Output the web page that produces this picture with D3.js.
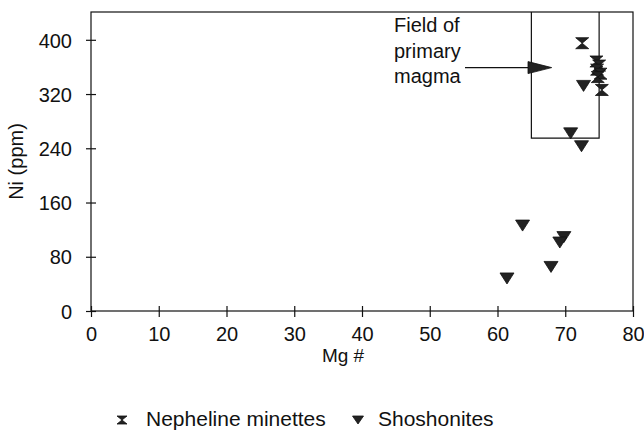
<!DOCTYPE html>
<html>
<head>
<meta charset="utf-8">
<script src="https://cdn.jsdelivr.net/npm/d3@7"></script>
<style>
  html, body { margin: 0; padding: 0; background: #fff; }
  svg text { font-family: "Liberation Sans", Arial, sans-serif; fill: #111; }
</style>
</head>
<body>
<svg id="chart" width="644" height="433"></svg>
<script>
// Nepheline minettes (Mg #, Ni ppm)
const minetteMg = [72.5, 74.6, 75.0, 74.7, 75.2, 74.8, 75.4];
const minetteNi = [395, 368, 362, 356, 350, 345, 326];
// Shoshonites (Mg #, Ni ppm)
const shoshMg = [72.7, 70.8, 72.4, 63.7, 69.8, 69.2, 67.9, 61.4];
const shoshNi = [332, 262, 243, 126, 109, 101, 65, 48];
// Axis ticks
const xTicks = [0, 10, 20, 30, 40, 50, 60, 70, 80];
const yTicks = [0, 80, 160, 240, 320, 400];
// Primary magma field: Mg # range and minimum Ni
const fieldMg = [65, 75];
const fieldNiMin = 255;
const fieldLabel = ["Field of", "primary", "magma"];
const legendLabels = ["Nepheline minettes", "Shoshonites"];

const W = 644, H = 433;
const margin = { top: 12, right: 11, bottom: 122, left: 91 };
const svg = d3.select("#chart");
const FONT = "Liberation Sans, Arial, sans-serif";

const x = d3.scaleLinear().domain([0, 80]).range([margin.left, W - margin.right]);
const y = d3.scaleLinear().domain([0, 441]).range([H - margin.bottom, margin.top]);

const ink = "#111";

// Plot frame
svg.append("rect")
  .attr("x", x(0)).attr("y", y(441))
  .attr("width", x(80) - x(0)).attr("height", y(0) - y(441))
  .attr("fill", "none").attr("stroke", ink).attr("stroke-width", 1.2);

// Axes with ticks crossing the axis line
const xAxis = d3.axisBottom(x).tickValues(xTicks).tickSize(0).tickPadding(0);
const gx = svg.append("g").attr("transform", `translate(0,${y(0)})`).call(xAxis);
gx.select(".domain").remove();
gx.selectAll(".tick text").attr("dy", null).attr("y", 30)
  .style("font-size", "20px").style("font-family", FONT).attr("fill", ink);
gx.selectAll(".tick").append("line").attr("y1", -5).attr("y2", 6).attr("stroke", ink).attr("stroke-width", 1.2);

const yAxis = d3.axisLeft(y).tickValues(yTicks).tickSize(0).tickPadding(0);
const gy = svg.append("g").attr("transform", `translate(${x(0)},0)`).call(yAxis);
gy.select(".domain").remove();
gy.selectAll(".tick text").attr("x", -19).attr("dy", "0.36em")
  .style("font-size", "20px").style("font-family", FONT).attr("fill", ink);
gy.selectAll(".tick").append("line").attr("x1", -5).attr("x2", 5).attr("stroke", ink).attr("stroke-width", 1.2);

// Axis titles
svg.append("text").attr("x", 343).attr("y", 362)
  .attr("text-anchor", "middle").style("font-size", "19px").text("Mg #");
svg.append("text").attr("transform", `translate(23,${(y(0) + y(441)) / 2}) rotate(-90)`)
  .attr("text-anchor", "middle").style("font-size", "20px").text("Ni (ppm)");

// Primary magma field box (open at the top, closed by the frame)
svg.append("path")
  .attr("d", `M${x(fieldMg[0])},${y(441)} V${y(fieldNiMin)} H${x(fieldMg[1])} V${y(441)}`)
  .attr("fill", "none").attr("stroke", ink).attr("stroke-width", 1.2);

// Field label and arrow
const labelG = svg.append("g");
const labelBase = [32, 58, 83];
fieldLabel.forEach((t, i) => {
  labelG.append("text").attr("x", 394).attr("y", labelBase[i])
    .style("font-size", "20px").text(t);
});
const arrowY = y(359);
svg.append("line").attr("x1", 465).attr("x2", x(65)).attr("y1", arrowY).attr("y2", arrowY)
  .attr("stroke", ink).attr("stroke-width", 1.2);
svg.append("path")
  .attr("d", `M${x(64.5)},${arrowY - 6} L${x(68)},${arrowY} L${x(64.5)},${arrowY + 6} Z`)
  .attr("fill", "#222").attr("stroke", ink).attr("stroke-width", 0.8);

// Marker shapes
const hourglass = (w, h) => `M${-w/2},${-h/2} H${w/2} L0,0 L${w/2},${h/2} H${-w/2} L0,0 Z`;
const downTri = (w, h) => `M${-w/2},${-h/2} H${w/2} L0,${h/2} Z`;

const shosh = shoshMg.map((m, i) => ({ m, n: shoshNi[i] }));
const mins = minetteMg.map((m, i) => ({ m, n: minetteNi[i] }));

svg.append("g").selectAll("path").data(shosh).join("path")
  .attr("transform", d => `translate(${x(d.m)},${y(d.n)})`)
  .attr("d", downTri(14, 11))
  .attr("fill", "#222").attr("stroke", ink).attr("stroke-width", 0.8);

svg.append("g").selectAll("path").data(mins).join("path")
  .attr("transform", d => `translate(${x(d.m)},${y(d.n)})`)
  .attr("d", hourglass(13, 11))
  .attr("fill", "#222").attr("stroke", ink).attr("stroke-width", 0.8);

// Legend
const lg = svg.append("g");
lg.append("path").attr("transform", "translate(122,420)").attr("d", hourglass(10, 8))
  .attr("fill", "#222").attr("stroke", ink).attr("stroke-width", 0.8);
lg.append("text").attr("x", 146).attr("y", 426).style("font-size", "21px").text(legendLabels[0]);
lg.append("path").attr("transform", "translate(358,420)").attr("d", downTri(11, 8))
  .attr("fill", "#222").attr("stroke", ink).attr("stroke-width", 0.8);
lg.append("text").attr("x", 378).attr("y", 426).style("font-size", "21px").text(legendLabels[1]);
</script>
</body>
</html>
